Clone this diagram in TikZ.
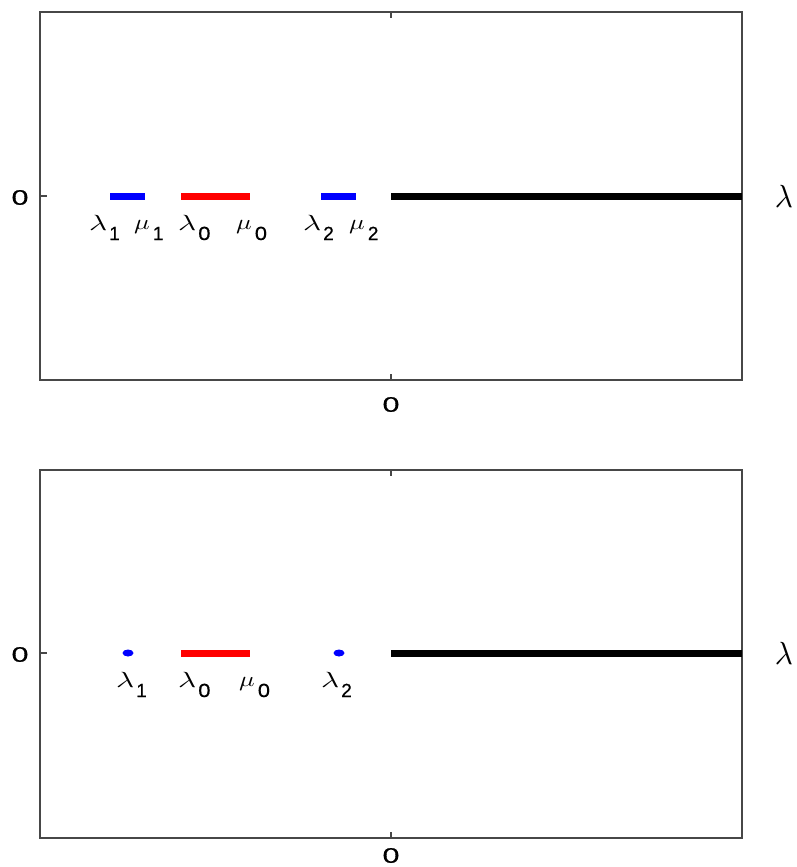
\documentclass[tikz,border=0pt]{standalone}
\usepackage{fontspec}
\newfontfamily\dg[FakeBold=0.6]{Liberation Sans}
\newcommand\subd[1]{\raisebox{-10pt}{\fontsize{19}{21}\selectfont\dg #1}}
\newcommand\glab[1]{\scalebox{3.1}[2.2]{$\lambda$}\kern2pt\subd{#1}}
\newcommand\mlab[1]{\raisebox{1pt}{\scalebox{2.6}[2.1]{$\mu$}}\kern3pt\subd{#1}}
\newcommand\zs{\scalebox{1.15}[1]{0}}
\newcommand\zro{\scalebox{1.45}[1]{0}}
\tikzset{
  frame/.style={draw=black!72, line width=1.4pt},
  tick/.style={draw=black!72, line width=1.4pt},
  seg/.style={line width=7pt, line cap=butt},
  lab/.style={inner sep=0pt, anchor=base west},
  tk/.style={font=\fontsize{21}{23}\selectfont\dg, inner sep=0pt},
  dot/.style={fill=blue, draw=none},
  axlab/.style={inner sep=0pt},
}
\begin{document}
\begin{tikzpicture}[x=1pt,y=-1pt]
\useasboundingbox[fill=white] (0,0) rectangle (796,867);
% ---------- top panel ----------
\draw[frame] (40,12) rectangle (742,380);
\draw[tick] (40,196) -- (47,196);
\draw[tick] (391,12) -- (391,18);
\draw[tick] (391,380) -- (391,374);
\coordinate (a1) at (110,196); \coordinate (b1) at (145,196);
\coordinate (a0) at (181,196); \coordinate (b0) at (250,196);
\coordinate (a2) at (321,196); \coordinate (b2) at (356,196);
\coordinate (o)  at (391,196); \coordinate (e)  at (742,196);
\draw[seg, blue] (a1) -- (b1);
\draw[seg, red] (a0) -- (b0);
\draw[seg, blue] (a2) -- (b2);
\draw[seg, black] (o) -- (e);
\node[lab] (tl1) at (89,230) {\glab{1}};
\node[lab] (tm1) at (134,230) {\mlab{1}};
\node[lab] (tl0) at (178,230) {\glab{\zs}};
\node[lab] (tm0) at (236,230) {\mlab{\zs}};
\node[lab] (tl2) at (303,230) {\glab{2}};
\node[lab] (tm2) at (349,230) {\mlab{2}};
\node[tk] (ty0) at (20,197.5) {\zro};
\node[tk] (tx0) at (391,404.5) {\zro};
\node[axlab] (tlam) at (784,196) {\scalebox{3.1}[3.2]{$\lambda$}};
% ---------- bottom panel ----------
\draw[frame] (40,470) rectangle (742,838);
\draw[tick] (40,653) -- (47,653);
\draw[tick] (391,470) -- (391,476);
\draw[tick] (391,838) -- (391,832);
\coordinate (c0) at (181,653); \coordinate (d0) at (250,653);
\coordinate (o2) at (391,653); \coordinate (e2) at (742,653);
\fill[dot] (128,653) ellipse (5.5pt and 3.5pt);
\fill[dot] (339,653) ellipse (5.5pt and 3.5pt);
\draw[seg, red] (c0) -- (d0);
\draw[seg, black] (o2) -- (e2);
\node[lab] (bl1) at (116,687) {\glab{1}};
\node[lab] (bl0) at (178,687) {\glab{\zs}};
\node[lab] (bm0) at (239,687) {\mlab{\zs}};
\node[lab] (bl2) at (321,687) {\glab{2}};
\node[tk] (by0) at (20,654.5) {\zro};
\node[tk] (bx0) at (391,855.5) {\zro};
\node[axlab] (blam) at (784,653) {\scalebox{3.1}[3.2]{$\lambda$}};
\end{tikzpicture}
\end{document}
